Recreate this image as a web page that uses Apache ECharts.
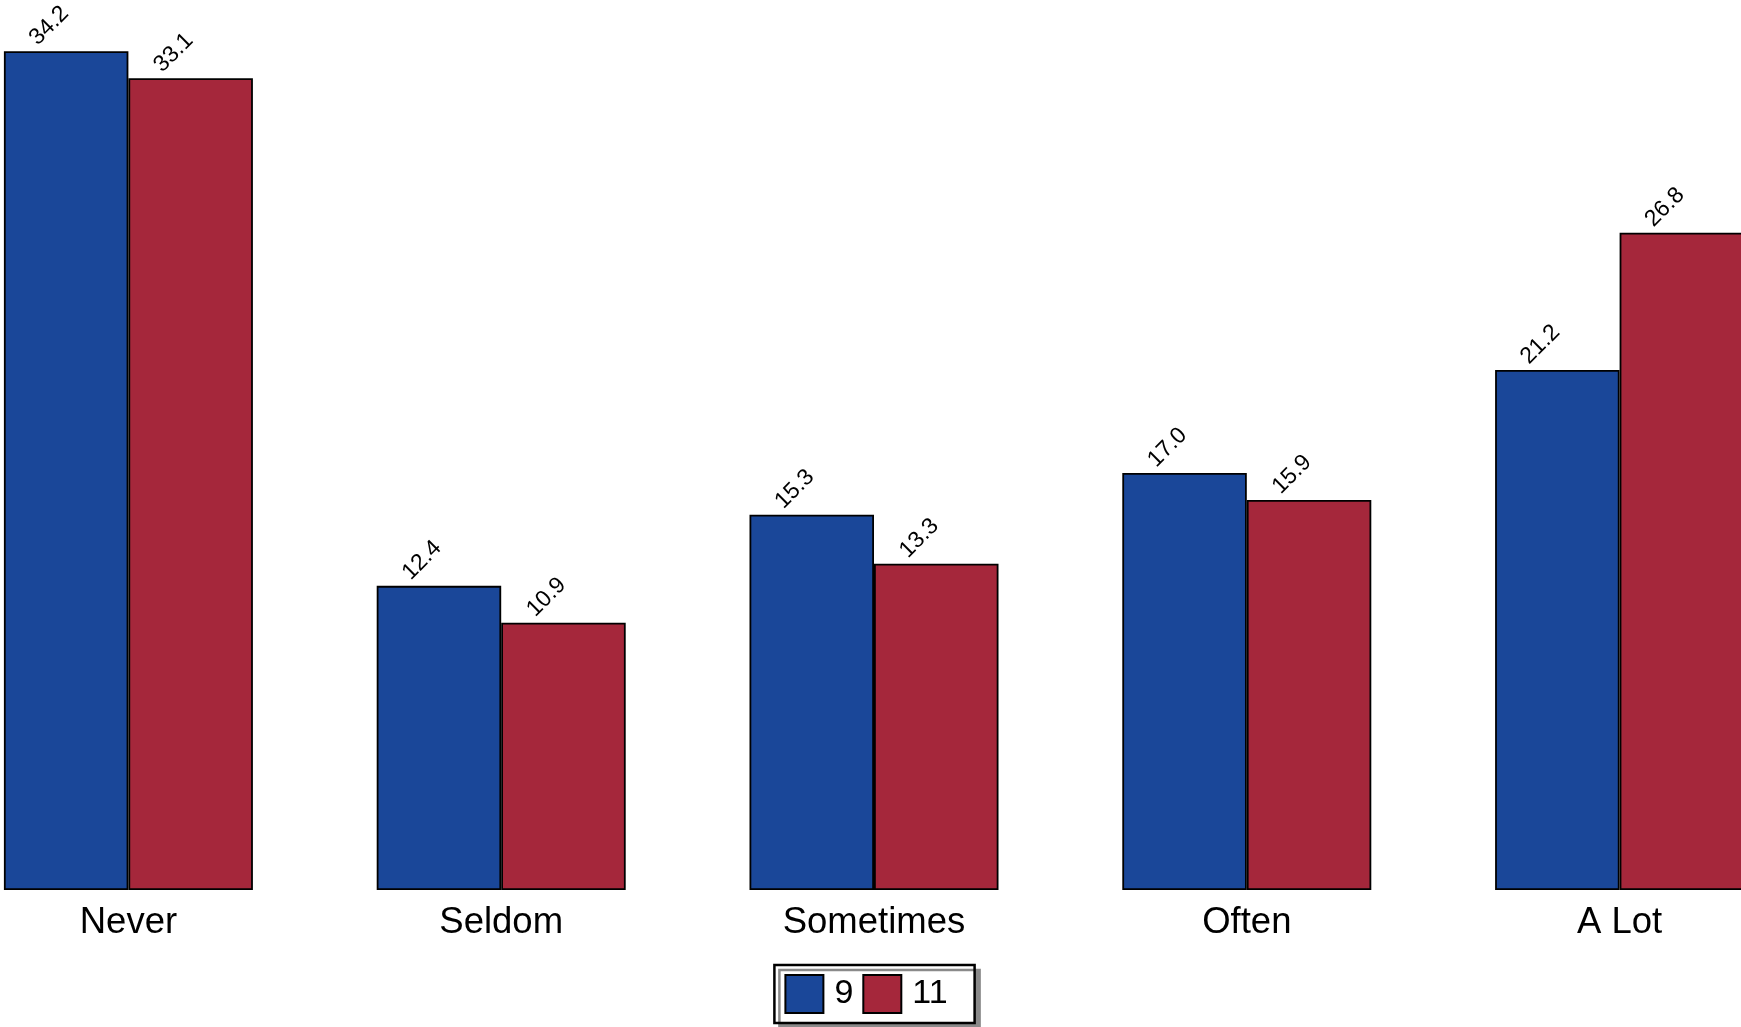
<!DOCTYPE html>
<html>
<head>
<meta charset="utf-8">
<script src="https://cdn.jsdelivr.net/npm/echarts@6/dist/echarts.min.js"></script>
<style>html,body{margin:0;padding:0;background:#fff;overflow:hidden;width:1741px;height:1027px;position:relative;}#c{position:absolute;left:-58.4px;top:0;width:1863.75px;height:1027px;}</style>
</head>
<body>
<div id="c"></div>
<script>
const categories = ['Never', 'Seldom', 'Sometimes', 'Often', 'A Lot'];
const seriesNames = ['9', '11'];
const grade9 = [34.2, 12.4, 15.3, 17.0, 21.2];
const grade11 = [33.1, 10.9, 13.3, 15.9, 26.8];
const colors = ['#1A4799', '#A5273B'];

const shiftX = 58.4;
const chart = echarts.init(document.getElementById('c'), null, {renderer: 'canvas'});
const font = '"Liberation Sans", Arial, Helvetica, sans-serif';
function mkSeries(name, data, color) {
  return {
    name: name,
    type: 'bar',
    data: data,
    barWidth: 124.5,
    barGap: '0%',
    itemStyle: {color: color, borderColor: '#000', borderWidth: 1.8},
    label: {
      show: true,
      position: 'top',
      distance: 0,
      rotate: 45,
      align: 'center',
      verticalAlign: 'middle',
      offset: [6, -30],
      fontFamily: font,
      fontSize: 23,
      color: '#000',
      formatter: p => p.value.toFixed(1)
    },
    animation: false
  };
}
chart.setOption({
  backgroundColor: '#fff',
  animation: false,
  grid: {left: 0, top: 7, right: 0, height: 883, containLabel: false},
  xAxis: {
    type: 'category',
    data: categories,
    axisLine: {show: false},
    axisTick: {show: false},
    axisLabel: {fontFamily: font, fontSize: 36.5, color: '#000', margin: 14}
  },
  yAxis: {
    type: 'value', min: 0, max: 36, show: false,
    splitLine: {show: false}
  },
  legend: {
    data: seriesNames,
    left: 774 + shiftX, top: 965,
    orient: 'horizontal',
    itemWidth: 38, itemHeight: 38,
    itemGap: 9,
    padding: [9, 27, 9, 10],
    borderColor: '#000', borderWidth: 2.5,
    backgroundColor: '#fff',
    shadowColor: '#8a8a8a', shadowBlur: 0, shadowOffsetX: 5, shadowOffsetY: 5,
    icon: 'rect',
    textStyle: {fontFamily: font, fontSize: 34, color: '#000', padding: [0, 0, 0, 6]},
    itemStyle: {borderColor: '#000', borderWidth: 2}
  },
  series: [mkSeries(seriesNames[0], grade9, colors[0]), mkSeries(seriesNames[1], grade11, colors[1])]
});
</script>
</body>
</html>
